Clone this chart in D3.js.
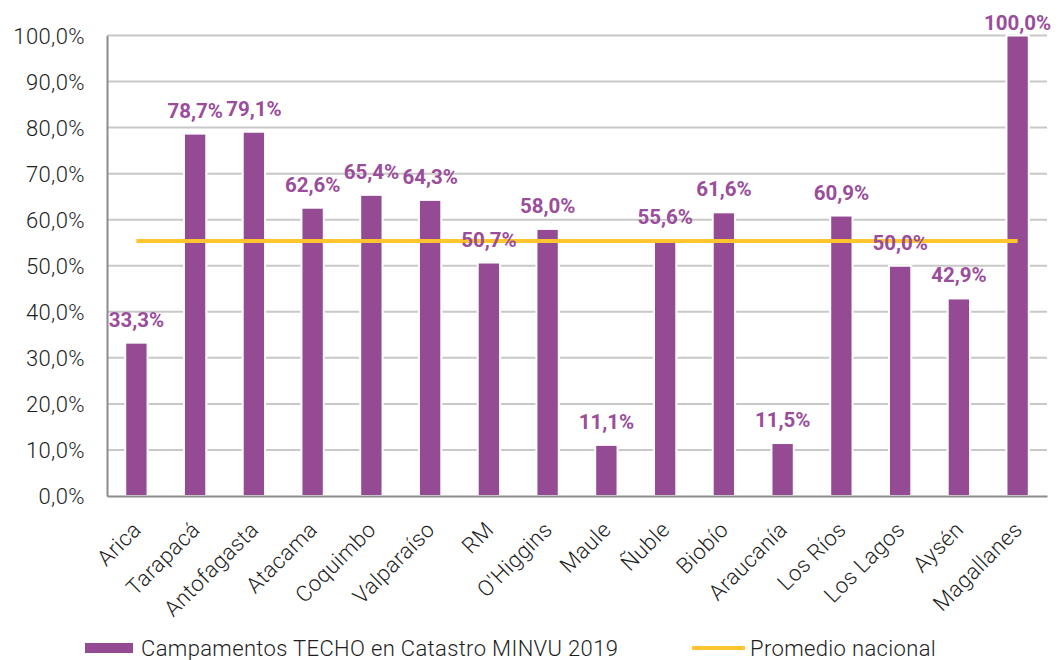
<!DOCTYPE html>
<html lang="es">
  <head>
    <meta charset="utf-8">
    <title>Campamentos TECHO</title>
    <script src="https://cdn.jsdelivr.net/npm/d3@7"></script>
    <style>
    body{margin:0;background:#fff;}
    .axis text{
      font-family:Roboto,sans-serif;
      font-weight:300;
      font-size:22px;
      letter-spacing:0.4px;
      fill:#1e1e1e;
    }
    .grid line{stroke:#c8c8c8;stroke-width:2px;}
    .lbl{
      font-family:Roboto,sans-serif;
      font-weight:bold;
      font-size:20.5px;
      fill:#9a4d9a;
    }
    .legend text{
      font-family:Roboto,sans-serif;
      font-weight:300;
      font-size:22px;
      letter-spacing:0.35px;
      fill:#1e1e1e;
    }
    </style>
  </head>
  <body>
    <svg></svg>
    <script>
      var regions=["Arica","Tarapacá","Antofagasta","Atacama","Coquimbo","Valparaíso","RM","O'Higgins","Maule","Ñuble","Biobío","Araucanía","Los Ríos","Los Lagos","Aysén","Magallanes"];
      var shares=[33.3,78.7,79.1,62.6,65.4,64.3,50.7,58.0,11.1,55.6,61.6,11.5,60.9,50.0,42.9,100.0];
      var promedio=55.4;
      var yTicks=[0,10,20,30,40,50,60,70,80,90,100];
      var seriesNames=["Campamentos TECHO en Catastro MINVU 2019","Promedio nacional"];

      var width=1059,height=660;
      var plotL=107,plotR=1047,plotT=35.5,plotB=496;
      var purple="#944b94",yellow="#ffc52e";
      var fmt=function(v){return v.toFixed(1).replace(".",",")+"%";};

      var svg=d3.select("svg").attr("width",width).attr("height",height);

      var x=d3.scaleBand().domain(regions).range([plotL,plotR]).paddingInner(0.62).paddingOuter(0.31);
      var y=d3.scaleLinear().domain([0,100]).range([plotB,plotT]);

      // gridlines
      svg.append("g").attr("class","grid")
         .selectAll("line").data(yTicks.slice(1)).enter().append("line")
         .attr("x1",plotL).attr("x2",plotR)
         .attr("y1",function(d){return y(d);}).attr("y2",function(d){return y(d);});

      // bars
      svg.append("g").selectAll("rect").data(shares).enter().append("rect")
         .attr("x",function(d,i){return x(regions[i]);})
         .attr("width",x.bandwidth())
         .attr("y",function(d){return y(d);})
         .attr("height",function(d){return plotB-y(d);})
         .attr("fill",purple)
         .attr("stroke","#fff")
         .attr("stroke-width",2);

      // axes
      var yAxis=d3.axisLeft(y).tickValues(yTicks).tickFormat(fmt).tickSize(0).tickPadding(22);
      svg.append("g").attr("class","axis")
         .attr("transform","translate("+plotL+",0)")
         .call(yAxis)
         .call(function(g){g.select(".domain").attr("stroke","#8c8c8c").attr("stroke-width",2);})
         .selectAll("text").attr("dy","0.35em");

      var xAxis=d3.axisBottom(x).tickSize(0).tickPadding(0);
      svg.append("g").attr("class","axis")
         .attr("transform","translate(0,"+plotB+")")
         .call(xAxis)
         .call(function(g){g.select(".domain").attr("stroke","#8c8c8c").attr("stroke-width",2);})
         .selectAll("text")
         .attr("text-anchor","end")
         .attr("dy",0)
         .attr("transform","translate(6,35) rotate(-45)");

      // average line
      svg.append("line")
         .attr("x1",x(regions[0])+x.bandwidth()/2)
         .attr("x2",x(regions[regions.length-1])+x.bandwidth()/2)
         .attr("y1",y(promedio)).attr("y2",y(promedio))
         .attr("stroke",yellow).attr("stroke-width",4);

      // value labels (kept inside the picture, like the original)
      svg.append("g").selectAll("text").data(shares).enter().append("text")
         .attr("class","lbl")
         .attr("text-anchor","middle")
         .attr("y",function(d){return Math.max(y(d)-16,30);})
         .text(fmt)
         .attr("x",function(d,i){
           var c=x(regions[i])+x.bandwidth()/2;
           var w=this.getComputedTextLength();
           return Math.min(c,width-3-w/2);
         });

      // legend
      var lg=svg.append("g").attr("class","legend");
      lg.append("rect").attr("x",85).attr("y",643).attr("width",48).attr("height",10).attr("fill",purple);
      lg.append("text").attr("x",141).attr("y",656).text(seriesNames[0]);
      lg.append("line").attr("x1",692).attr("x2",745).attr("y1",648).attr("y2",648)
        .attr("stroke",yellow).attr("stroke-width",4);
      lg.append("text").attr("x",750).attr("y",656).text(seriesNames[1]);
    </script>
  </body>
</html>
